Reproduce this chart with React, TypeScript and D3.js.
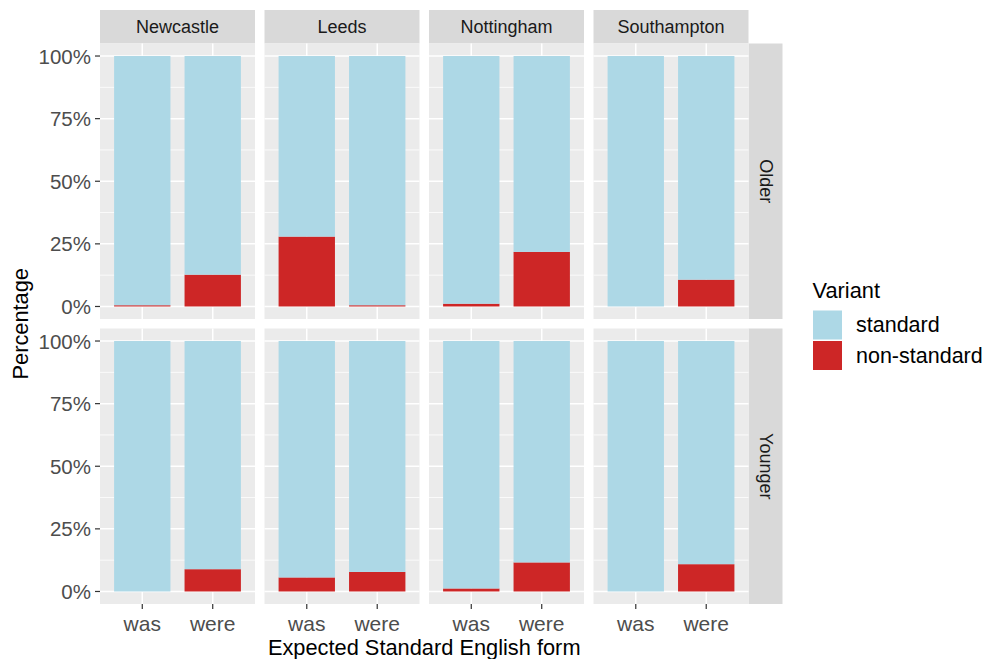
import React from "react";
import * as d3 from "d3";

const cities = ["Newcastle", "Leeds", "Nottingham", "Southampton"];
const ages = ["Older", "Younger"];
const forms = ["was", "were"];
const variants = ["standard", "non-standard"];
const yTicks = [0, 0.25, 0.5, 0.75, 1];
const yMinor = [0.125, 0.375, 0.625, 0.875];

// non-standard share per [age][city][form]
const olderNonStd = [
  [0.005, 0.127],
  [0.279, 0.005],
  [0.011, 0.218],
  [0.0, 0.107],
];
const youngerNonStd = [
  [0.0, 0.089],
  [0.056, 0.078],
  [0.012, 0.116],
  [0.0, 0.109],
];
const nonStdByAge = [olderNonStd, youngerNonStd];

const colors = { standard: "#ADD8E6", "non-standard": "#CD2626" };

const FONT = "'Liberation Sans', Arial, sans-serif";

export default function App() {
  const panelLeft0 = 100;
  const panelW = 155;
  const gapX = 9.5;
  const stripTop = 10;
  const stripH = 33.5;
  const panelTop0 = stripTop + stripH;
  const panelH = 275.5;
  const gapY = 9.5;
  const rightStripW = 34;

  const x = d3
    .scaleBand<string>()
    .domain(forms)
    .range([0, panelW])
    .paddingInner(0.2)
    .paddingOuter(0.2);
  const y = d3.scaleLinear().domain([-0.05, 1.05]).range([panelH, 0]);
  const fmt = d3.format(".0%");

  const lastRight = panelLeft0 + 3 * (panelW + gapX) + panelW;

  return (
    <div style={{ position: "fixed", left: 0, top: 0 }}>
      <svg width={985} height={659} style={{ display: "block", background: "#fff" }} fontFamily={FONT}>
        {/* top strips */}
        {cities.map((c, ci) => {
          const px = panelLeft0 + ci * (panelW + gapX);
          return (
            <g key={c}>
              <rect x={px} y={stripTop} width={panelW} height={stripH} fill="#D9D9D9" />
              <text
                x={px + panelW / 2}
                y={stripTop + stripH / 2}
                textAnchor="middle"
                dominantBaseline="central"
                fontSize={18}
                fill="#1A1A1A"
              >
                {c}
              </text>
            </g>
          );
        })}
        {ages.map((a, ai) => {
          const py = panelTop0 + ai * (panelH + gapY);
          return (
            <g key={a}>
              {/* right strip */}
              <rect x={lastRight} y={py} width={rightStripW} height={panelH} fill="#D9D9D9" />
              <text
                transform={`translate(${lastRight + rightStripW / 2},${py + panelH / 2}) rotate(90)`}
                textAnchor="middle"
                dominantBaseline="central"
                fontSize={18}
                fill="#1A1A1A"
              >
                {a}
              </text>
              {/* y axis */}
              {yTicks.map((t) => (
                <g key={t}>
                  <line x1={panelLeft0 - 5} x2={panelLeft0} y1={py + y(t)} y2={py + y(t)} stroke="#333" strokeWidth={1.2} />
                  <text
                    x={panelLeft0 - 9}
                    y={py + y(t)}
                    textAnchor="end"
                    dominantBaseline="central"
                    fontSize={20.5}
                    fill="#4D4D4D"
                  >
                    {fmt(t)}
                  </text>
                </g>
              ))}
              {cities.map((c, ci) => {
                const px = panelLeft0 + ci * (panelW + gapX);
                return (
                  <g key={c} transform={`translate(${px},${py})`}>
                    <rect width={panelW} height={panelH} fill="#EBEBEB" />
                    {yMinor.map((t) => (
                      <line key={t} x1={0} x2={panelW} y1={y(t)} y2={y(t)} stroke="#fff" strokeWidth={0.8} />
                    ))}
                    {yTicks.map((t) => (
                      <line key={t} x1={0} x2={panelW} y1={y(t)} y2={y(t)} stroke="#fff" strokeWidth={1.5} />
                    ))}
                    {forms.map((f) => {
                      const cx = (x(f) as number) + x.bandwidth() / 2;
                      return <line key={f} x1={cx} x2={cx} y1={0} y2={panelH} stroke="#fff" strokeWidth={1.5} />;
                    })}
                    {forms.map((f, fi) => {
                      const ns = nonStdByAge[ai][ci][fi];
                      const segs = [
                        { v: "non-standard", y0: 0, y1: ns },
                        { v: "standard", y0: ns, y1: 1 },
                      ];
                      return segs.map((s) =>
                        s.y1 - s.y0 > 0 ? (
                          <rect
                            key={f + s.v}
                            x={x(f)}
                            width={x.bandwidth()}
                            y={y(s.y1)}
                            height={y(s.y0) - y(s.y1)}
                            fill={colors[s.v as keyof typeof colors]}
                          />
                        ) : null
                      );
                    })}
                    {ai === ages.length - 1 &&
                      forms.map((f) => {
                        const cx = (x(f) as number) + x.bandwidth() / 2;
                        return (
                          <g key={"t" + f}>
                            <line x1={cx} x2={cx} y1={panelH} y2={panelH + 5} stroke="#333" strokeWidth={1.2} />
                            <text x={cx} y={panelH + 27} textAnchor="middle" fontSize={21} fill="#4D4D4D">
                              {f}
                            </text>
                          </g>
                        );
                      })}
                  </g>
                );
              })}
            </g>
          );
        })}
        {/* axis titles */}
        <text
          x={(panelLeft0 + lastRight) / 2}
          y={655}
          textAnchor="middle"
          fontSize={21.8}
          fill="#000"
        >
          Expected Standard English form
        </text>
        <text
          transform={`translate(20,${panelTop0 + panelH + gapY / 2}) rotate(-90)`}
          textAnchor="middle"
          dominantBaseline="central"
          fontSize={21.8}
          fill="#000"
        >
          Percentage
        </text>
        {/* legend */}
        <text x={812.5} y={297.5} fontSize={21.8} fill="#000">
          Variant
        </text>
        {variants.map((v, i) => (
          <g key={v}>
            <rect x={813} y={310.5 + i * 30.5} width={29} height={29} fill={colors[v as keyof typeof colors]} />
            <text x={856} y={310.5 + i * 30.5 + 14.5} dominantBaseline="central" fontSize={21.5} fill="#000">
              {v}
            </text>
          </g>
        ))}
      </svg>
    </div>
  );
}
